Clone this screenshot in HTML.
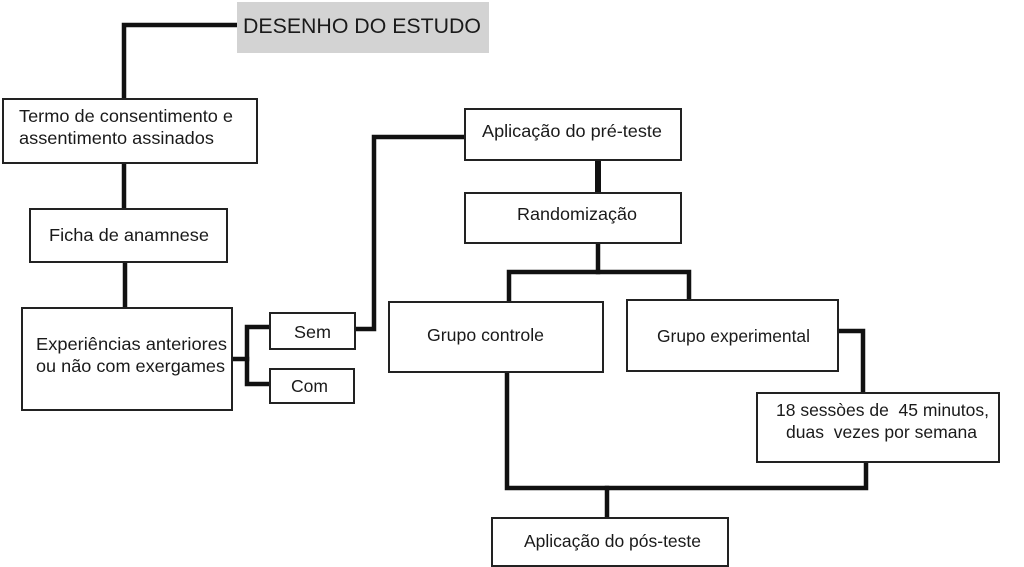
<!DOCTYPE html>
<html>
<head>
<meta charset="utf-8">
<style>
html,body{margin:0;padding:0;background:#fff;}
svg{display:block;}
text{font-family:"Liberation Sans",Arial,sans-serif;fill:#1a1a1a;white-space:pre;}
.b{fill:#fff;stroke:#222;stroke-width:2;}
.c{fill:none;stroke:#111;stroke-width:4.5;stroke-linejoin:miter;stroke-linecap:square;}
.t{font-size:17.8px;}
</style>
</head>
<body>
<svg width="1024" height="567" viewBox="0 0 1024 567" xmlns="http://www.w3.org/2000/svg">
  <!-- connectors -->
  <polyline class="c" points="237,25 124,25 124,99"/>
  <line class="c" x1="124" y1="163" x2="124" y2="209"/>
  <line class="c" x1="125" y1="262" x2="125" y2="308"/>
  <polyline class="c" points="232,359 247,359"/>
  <polyline class="c" points="270,327 247,327 247,384 270,384"/>
  <polyline class="c" points="355,329 374,329 374,137 465,137"/>
  <line class="c" x1="598" y1="160" x2="598" y2="193" style="stroke-width:6"/>
  <line class="c" x1="598" y1="243" x2="598" y2="272"/>
  <polyline class="c" points="509,302 509,272 689,272 689,300"/>
  <polyline class="c" points="838,331 863,331 863,393"/>
  <polyline class="c" points="507,372 507,488 866,488 866,462"/>
  <line class="c" x1="607" y1="488" x2="607" y2="518"/>

  <!-- title -->
  <rect x="237" y="2" width="252" height="51" fill="#d3d3d3"/>
  <text x="243" y="33" style="font-size:21.3px" textLength="238" lengthAdjust="spacingAndGlyphs">DESENHO DO ESTUDO</text>

  <!-- boxes -->
  <rect class="b" x="3" y="99" width="254" height="64"/>
  <text class="t" x="19" y="122" textLength="214" lengthAdjust="spacingAndGlyphs">Termo de consentimento e</text>
  <text class="t" x="19" y="144" textLength="195" lengthAdjust="spacingAndGlyphs">assentimento assinados</text>

  <rect class="b" x="30" y="209" width="197" height="53"/>
  <text class="t" x="49" y="241" textLength="160" lengthAdjust="spacingAndGlyphs">Ficha de anamnese</text>

  <rect class="b" x="22" y="308" width="210" height="102"/>
  <text class="t" x="36" y="350" textLength="191" lengthAdjust="spacingAndGlyphs">Experiências anteriores</text>
  <text class="t" x="36" y="372" textLength="189" lengthAdjust="spacingAndGlyphs">ou não com exergames</text>

  <rect class="b" x="270" y="313" width="85" height="36"/>
  <text class="t" x="294" y="338" textLength="37" lengthAdjust="spacingAndGlyphs">Sem</text>

  <rect class="b" x="270" y="369" width="84" height="34"/>
  <text class="t" x="291" y="392" textLength="37" lengthAdjust="spacingAndGlyphs">Com</text>

  <rect class="b" x="465" y="109" width="216" height="51"/>
  <text class="t" x="482" y="137" textLength="180" lengthAdjust="spacingAndGlyphs">Aplicação do pré-teste</text>

  <rect class="b" x="465" y="193" width="216" height="50"/>
  <text class="t" x="517" y="220" textLength="120" lengthAdjust="spacingAndGlyphs">Randomização</text>

  <rect class="b" x="389" y="302" width="214" height="70"/>
  <text class="t" x="427" y="341" textLength="117" lengthAdjust="spacingAndGlyphs">Grupo controle</text>

  <rect class="b" x="627" y="300" width="211" height="71"/>
  <text class="t" x="657" y="342" textLength="153" lengthAdjust="spacingAndGlyphs">Grupo experimental</text>

  <rect class="b" x="757" y="393" width="242" height="69"/>
  <text class="t" x="776" y="416" textLength="213" lengthAdjust="spacingAndGlyphs">18 sessòes de  45 minutos,</text>
  <text class="t" x="786" y="438" textLength="191" lengthAdjust="spacingAndGlyphs">duas  vezes por semana</text>

  <rect class="b" x="492" y="518" width="236" height="48"/>
  <text class="t" x="524" y="547" textLength="177" lengthAdjust="spacingAndGlyphs">Aplicação do pós-teste</text>
</svg>
</body>
</html>
